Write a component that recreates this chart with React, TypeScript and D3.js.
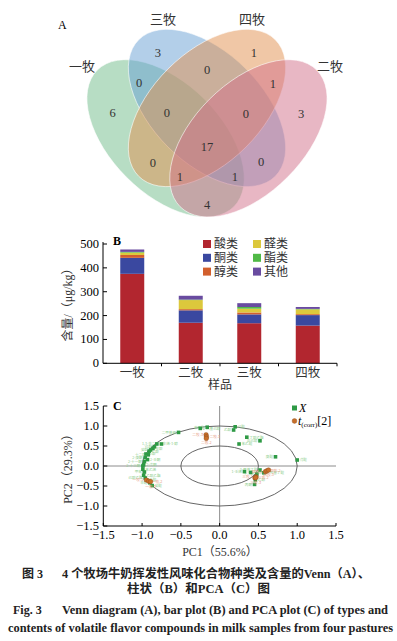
import React from "react";
import * as d3 from "d3";

const W = 397;
const H = 641;
const serif = "'Liberation Serif', 'Noto Sans CJK SC', serif";
const cjk = "'Liberation Serif', 'Noto Sans CJK SC', sans-serif";

// ---- A: Venn ----
const vennSets = ["一牧", "三牧", "四牧", "二牧"];
const vennColors = ["#6fbb89", "#679fd3", "#e18f4d", "#d16f89"];
const vennCx = [0.35, 0.5, 0.5, 0.65];
const vennCy = [0.46, 0.57, 0.57, 0.46];
const vennRot = [45, 45, -45, -45];
const vennA = 0.35;
const vennB = 0.2;
const vennSetLabelX = [0.047, 0.341, 0.663, 0.946];
const vennSetLabelY = [0.719, 0.889, 0.889, 0.722];
const vennCounts = [6, 3, 1, 3, 0, 0, 1, 0, 0, 17, 0, 0, 1, 1, 4];
const vennCountX = [0.158, 0.322, 0.67, 0.841, 0.254, 0.5, 0.739, 0.355, 0.641, 0.5, 0.304, 0.696, 0.402, 0.601, 0.5];
const vennCountY = [0.551, 0.769, 0.769, 0.548, 0.661, 0.708, 0.657, 0.552, 0.548, 0.429, 0.371, 0.374, 0.32, 0.32, 0.219];

// ---- B: stacked bars ----
const samples = ["一牧", "二牧", "三牧", "四牧"];
const classes = ["酸类", "酮类", "醇类", "醛类", "酯类", "其他"];
const classColors = ["#b2262f", "#3a48a0", "#d25f2d", "#dcc83c", "#50b946", "#694ba0"];
const acids = [375, 170, 168, 158];
const ketones = [67, 52, 37, 44];
const alcohols = [12, 5, 8, 4];
const aldehydes = [10, 38, 16, 20];
const esters = [3, 2, 7, 2];
const others = [10, 16, 16, 8];
const barTicks = [0, 100, 200, 300, 400, 500];

// ---- C: PCA ----
const loadX = [-0.75, -0.81, -0.84, -0.86, -0.89, -0.91, -0.92, -0.95, -0.96, -0.93, -0.97, -0.98, -0.99, -0.99, -0.97, -0.98, -0.96, -0.94, -0.9, -0.87,
  -0.53, -0.25, -0.16, 0.2, 0.18, 0.35, 0.52, 0.25,
  0.72, 1.0,
  0.32, 0.4, 0.48, 0.57, 0.52, 0.46, 0.45];
const loadY = [0.55, 0.55, 0.48, 0.44, 0.4, 0.37, 0.28, 0.3, 0.21, 0.16, 0.11, 0.03, 0.0, -0.08, -0.15, -0.23, -0.3, -0.35, -0.42, -0.49,
  0.84, 0.94, 0.97, 0.98, 0.9, 0.72, 0.63, 0.55,
  0.23, 0.15,
  -0.14, -0.16, -0.2, -0.17, -0.1, -0.35, -0.46];
const loadNames = ["1,3-辛二醇", "1-辛烯-3-醇", "己酸", "辛酸", "癸酸", "丁酸", "十二酸", "壬酸", "2-庚酮", "2-壬酮", "2-十一酮", "2-戊酮", "2-十三酮", "苯乙烯", "甲苯", "乙酸乙酯", "己酸乙酯", "壬醛", "辛醛", "癸醛",
  "二甲基砜", "2-乙基己醇", "苯甲醛", "己醛", "乙酸", "丁酸乙酯", "正己醇", "苯乙醛",
  "庚醛", "戊醛",
  "1-壬烯", "十四烷", "十六烷", "2-甲基丁醛", "3-甲基丁醛", "乙醇", "丙酮"];
const scoreX = [-0.945, -0.915, -0.89, -0.175, -0.17, -0.172, 0.47, 0.455, 0.465, 0.59, 0.61, 0.63];
const scoreY = [-0.35, -0.38, -0.39, 0.78, 0.73, 0.69, -0.27, -0.3, -0.29, -0.14, -0.12, -0.1];
const scoreNames = ["一牧.1", "一牧.2", "一牧.3", "二牧.3", "二牧.1", "二牧.2", "三牧.1", "三牧.2", "三牧.3", "四牧.1", "四牧.2", "四牧.3"];
const pcaTicks = [-1.5, -1, -0.5, 0, 0.5, 1, 1.5];

const fmt = (v: number) => d3.format(".1f")(v).replace("-", "−");

export default function App() {
  // Venn scales (unit square -> pixels)
  const xV = d3.scaleLinear().domain([0, 1]).range([69, 345]);
  const yV = d3.scaleLinear().domain([0, 1]).range([265.3, -10.7]);
  const unit = xV(1) - xV(0);

  // bar scales
  const xB = d3.scaleBand().domain(samples).range([103, 337]).paddingInner(0.59).paddingOuter(0.295);
  const yB = d3.scaleLinear().domain([0, 500]).range([363.3, 244]);
  const table = samples.map((s, i) => ({
    sample: s,
    酸类: acids[i],
    酮类: ketones[i],
    醇类: alcohols[i],
    醛类: aldehydes[i],
    酯类: esters[i],
    其他: others[i],
  }));
  const stacked = d3.stack<any>().keys(classes)(table);
  const step = xB.step();
  const x0 = xB.range()[0];

  // PCA scales
  const xP = d3.scaleLinear().domain([-1.5, 1.5]).range([103.3, 336]);
  const yP = d3.scaleLinear().domain([-1.5, 1.5]).range([526, 406]);
  const rx = xP(1) - xP(0);
  const ry = yP(0) - yP(1);

  return (
    <svg width={W} height={H} style={{ position: "absolute", left: 0, top: 0, background: "#fff" }}>
      {/* ---------- A ---------- */}
      <text x={58} y={29} fontFamily={serif} fontSize={12}>A</text>
      {vennSets.map((s, i) => (
        <ellipse
          key={s}
          cx={0}
          cy={0}
          rx={vennA * unit}
          ry={vennB * unit}
          transform={`translate(${xV(vennCx[i])},${yV(vennCy[i])}) rotate(${vennRot[i]})`}
          fill={vennColors[i]}
          fillOpacity={0.5}
          stroke="#ffffff"
          strokeOpacity={0.7}
          strokeWidth={0.8}
        />
      ))}
      {vennSets.map((s, i) => (
        <text key={s} x={xV(vennSetLabelX[i])} y={yV(vennSetLabelY[i])} textAnchor="middle" dominantBaseline="central" fontFamily={cjk} fontSize={13} fill="#333">
          {s}
        </text>
      ))}
      {vennCounts.map((c, i) => (
        <text key={i} x={xV(vennCountX[i])} y={yV(vennCountY[i])} textAnchor="middle" dominantBaseline="central" fontFamily={serif} fontSize={12.5} fill="#333">
          {c}
        </text>
      ))}

      {/* ---------- B ---------- */}
      {stacked.map((layer, k) => (
        <g key={layer.key} fill={classColors[k]}>
          {layer.map((d: any) => (
            <rect key={d.data.sample} x={xB(d.data.sample)} y={yB(d[1])} width={xB.bandwidth()} height={yB(d[0]) - yB(d[1])} />
          ))}
        </g>
      ))}
      <line x1={103} x2={103} y1={yB(500) - 2} y2={yB(0)} stroke="#000" strokeWidth={1} />
      <line x1={103} x2={337} y1={yB(0)} y2={yB(0)} stroke="#000" strokeWidth={1} />
      {barTicks.map((t) => (
        <g key={t}>
          <line x1={103} x2={107} y1={yB(t)} y2={yB(t)} stroke="#000" />
          <text x={99} y={yB(t)} textAnchor="end" dominantBaseline="central" fontFamily={serif} fontSize={12.5}>
            {t}
          </text>
        </g>
      ))}
      {samples.map((s, i) => (
        <g key={s}>
          <line x1={x0 + step * (i + 1)} x2={x0 + step * (i + 1)} y1={yB(0)} y2={yB(0) + 3} stroke="#000" />
          <text x={(xB(s) as number) + xB.bandwidth() / 2} y={377} textAnchor="middle" fontFamily={cjk} fontSize={12.5} fill="#333">
            {s}
          </text>
        </g>
      ))}
      <text x={220} y={389} textAnchor="middle" fontFamily={cjk} fontSize={12} fill="#333">样品</text>
      <text transform="translate(72,302) rotate(-90)" textAnchor="middle" fontFamily={cjk} fontSize={12} fill="#333">
        含量/（μg/kg）
      </text>
      <text x={113} y={245} fontFamily={serif} fontSize={12} fontWeight="bold">B</text>
      {classes.map((c, k) => {
        const col = Math.floor(k / 3);
        const row = k % 3;
        const lx = 203 + col * 50;
        const ly = 244 + row * 13.8;
        return (
          <g key={c}>
            <rect x={lx} y={ly - 4} width={8} height={8} fill={classColors[k]} />
            <text x={lx + 11} y={ly} dominantBaseline="central" fontFamily={cjk} fontSize={12} fill="#333">
              {c}
            </text>
          </g>
        );
      })}

      {/* ---------- C ---------- */}
      <line x1={xP(-1.5)} x2={xP(1.5)} y1={yP(0)} y2={yP(0)} stroke="#8c8c8c" strokeWidth={1} />
      <line x1={xP(0)} x2={xP(0)} y1={yP(1.5)} y2={yP(-1.5)} stroke="#8c8c8c" strokeWidth={1} />
      <ellipse cx={xP(0)} cy={yP(0)} rx={rx} ry={ry} fill="none" stroke="#555" strokeWidth={0.9} />
      <ellipse cx={xP(0)} cy={yP(0)} rx={rx / 2} ry={ry / 2} fill="none" stroke="#555" strokeWidth={0.9} />
      <line x1={xP(-1.5)} x2={xP(-1.5)} y1={yP(1.5)} y2={yP(-1.5)} stroke="#000" />
      <line x1={xP(-1.5)} x2={xP(1.5)} y1={yP(-1.5)} y2={yP(-1.5)} stroke="#000" />
      {pcaTicks.map((t) => (
        <g key={t}>
          <line x1={xP(-1.5)} x2={xP(-1.5) + 4} y1={yP(t)} y2={yP(t)} stroke="#000" />
          <text x={99} y={yP(t)} textAnchor="end" dominantBaseline="central" fontFamily={serif} fontSize={12.5}>
            {fmt(t)}
          </text>
          <line x1={xP(t)} x2={xP(t)} y1={yP(-1.5)} y2={yP(-1.5) - 3} stroke="#000" />
          <text x={xP(t)} y={539} textAnchor="middle" fontFamily={serif} fontSize={12.5}>
            {fmt(t)}
          </text>
        </g>
      ))}
      <text x={113} y={410} fontFamily={serif} fontSize={12} fontWeight="bold">C</text>
      <text transform="translate(72,466) rotate(-90)" textAnchor="middle" fontFamily={cjk} fontSize={12} fill="#333">
        PC2（29.3%）
      </text>
      <text x={220} y={556} textAnchor="middle" fontFamily={cjk} fontSize={12} fill="#333">PC1（55.6%）</text>

      {loadX.map((v, i) => (
        <text
          key={"ln" + i}
          x={xP(v) + (i % 2 === 0 ? -2.5 : 2.5)}
          y={yP(loadY[i]) + 1.3}
          textAnchor={i % 2 === 0 ? "end" : "start"}
          fontFamily="'Noto Sans CJK SC'"
          fontSize={3.6}
          fill="#8fcf8f"
        >
          {loadNames[i]}
        </text>
      ))}
      {loadX.map((v, i) => (
        <rect key={"lp" + i} x={xP(v) - 1.8} y={yP(loadY[i]) - 1.8} width={3.6} height={3.6} fill="#2e9a45" />
      ))}
      {scoreX.map((v, i) => (
        <text
          key={"sn" + i}
          x={xP(v) + (i % 3 === 0 ? -3 : i % 3 === 1 ? 3 : 0)}
          y={yP(scoreY[i]) + (i % 3 === 2 ? 6 : 1.3)}
          textAnchor={i % 3 === 0 ? "end" : i % 3 === 1 ? "start" : "middle"}
          fontFamily="'Noto Sans CJK SC'"
          fontSize={3.8}
          fill="#e79a84"
        >
          {scoreNames[i]}
        </text>
      ))}
      {scoreX.map((v, i) => (
        <circle key={"sp" + i} cx={xP(v)} cy={yP(scoreY[i])} r={2.3} fill="#c8702a" stroke="#8a4a1c" strokeWidth={0.4} />
      ))}
      <rect x={292} y={405.5} width={5} height={5} fill="#2e9a45" />
      <text x={299} y={408} dominantBaseline="central" fontFamily={serif} fontStyle="italic" fontSize={12}>X</text>
      <circle cx={294.5} cy={421} r={2.4} fill="#c8702a" stroke="#8a4a1c" strokeWidth={0.4} />
      <text x={298} y={425} fontFamily={serif} fontSize={12}>
        <tspan fontStyle="italic">t</tspan>
        <tspan fontSize={7} dy={2}>(corr)</tspan>
        <tspan dy={-2}>[2]</tspan>
      </text>

      {/* ---------- caption ---------- */}
      <g fontWeight="bold" fill="#222">
        <text x={22} y={578} fontFamily={cjk} fontSize={12}>图 3</text>
        <text x={62} y={578} fontFamily={cjk} fontSize={12} textLength={308} lengthAdjust="spacingAndGlyphs">
          4 个牧场牛奶挥发性风味化合物种类及含量的Venn（A）、
        </text>
        <text x={198.5} y={593} textAnchor="middle" fontFamily={cjk} fontSize={12} textLength={143} lengthAdjust="spacingAndGlyphs">
          柱状（B）和PCA（C）图
        </text>
        <text x={13} y={614} fontFamily={serif} fontSize={12}>Fig. 3</text>
        <text x={62} y={614} fontFamily={serif} fontSize={12} textLength={326} lengthAdjust="spacingAndGlyphs">
          Venn diagram (A), bar plot (B) and PCA plot (C) of types and
        </text>
        <text x={8} y={632} fontFamily={serif} fontSize={12} textLength={385} lengthAdjust="spacingAndGlyphs">
          contents of volatile flavor compounds in milk samples from four pastures
        </text>
      </g>
    </svg>
  );
}
